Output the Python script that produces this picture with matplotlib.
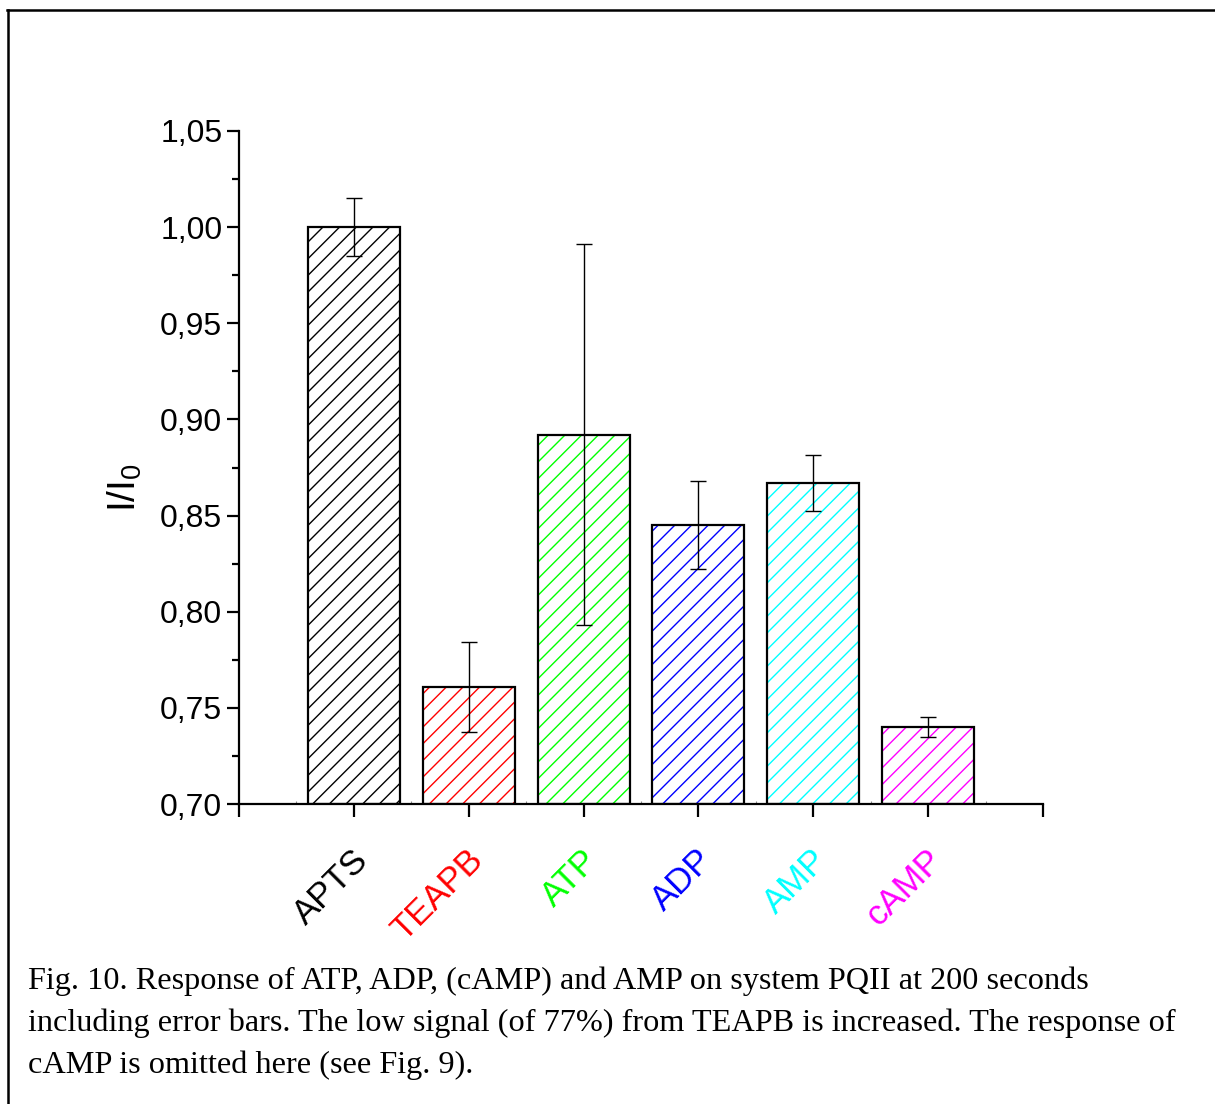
import matplotlib
matplotlib.use("Agg")
import matplotlib.pyplot as plt
from matplotlib.lines import Line2D
import matplotlib.transforms as mtransforms
import numpy as np

categories = ["APTS", "TEAPB", "ATP", "ADP", "AMP", "cAMP"]
values = [1.000, 0.761, 0.892, 0.845, 0.867, 0.740]
errors = [0.015, 0.0235, 0.099, 0.023, 0.0145, 0.0052]
colors = ["#000000", "#ff0000", "#00ff00", "#0000ff", "#00ffff", "#ff00ff"]
caption = ["Fig. 10. Response of ATP, ADP, (cAMP) and AMP on system PQII at 200 seconds",
           "including error bars. The low signal (of 77%) from TEAPB is increased. The response of",
           "cAMP is omitted here (see Fig. 9)."]

plt.rcParams['font.family'] = ['Liberation Sans', 'DejaVu Sans']
plt.rcParams['hatch.linewidth'] = 1.0

W, H = 1215, 1104
fig = plt.figure(figsize=(W / 100, H / 100), dpi=100)
ax = fig.add_axes([239 / W, 1 - 804 / H, (1043 - 239) / W, (804 - 131) / H])

x = np.arange(1, len(categories) + 1)
base = 0.70
for xi, v, c in zip(x, values, colors):
    ax.bar(xi, v - base, bottom=base, width=0.8, color='white', edgecolor=c,
           hatch='//', linewidth=0, zorder=2)
    ax.bar(xi, v - base, bottom=base, width=0.8, fill=False, edgecolor='black',
           linewidth=1.6, zorder=3)
ax.errorbar(x, values, yerr=errors, fmt='none', ecolor='black', elinewidth=1.0,
            capsize=6, capthick=1.0, zorder=4)

ax.set_xlim(0, 7)
ax.set_ylim(0.70, 1.05)
for s in ['top', 'right']:
    ax.spines[s].set_visible(False)
for s in ['left', 'bottom']:
    ax.spines[s].set_linewidth(1.6)

ax.set_yticks(np.arange(0.70, 1.0501, 0.05))
ax.set_yticklabels([f"{t:.2f}".replace('.', ',') for t in np.arange(0.70, 1.0501, 0.05)])
ax.set_yticks(np.arange(0.725, 1.05, 0.05), minor=True)
ax.tick_params(axis='y', which='major', direction='out', length=9, width=1.6,
               labelsize=23, pad=3)
ax.tick_params(axis='y', which='minor', direction='out', length=5, width=1.6)

ax.set_xticks(np.arange(0, 8))
ax.set_xticklabels([])
ax.set_xticks(np.arange(0.5, 7, 1.0), minor=True)
ax.tick_params(axis='x', which='major', direction='out', length=9, width=1.6)
ax.tick_params(axis='x', which='minor', direction='in', length=2, width=0.8, color='#888888')

trans = mtransforms.blended_transform_factory(ax.transData, ax.transAxes) + \
    mtransforms.ScaledTranslation(9 / 100, 0, fig.dpi_scale_trans)
ylab = (804 - 855) / (804 - 131)
for xi, cat, c in zip(x, categories, colors):
    ax.text(xi, ylab, cat, color=c, fontsize=25, rotation=45, ha='right', va='center',
            rotation_mode='anchor', transform=trans, clip_on=False)

fig.text(125 / W, 1 - 488 / H, r"I/I$_\mathregular{0}$", rotation=90, fontsize=28,
         ha='center', va='center')

for i, line in enumerate(caption):
    fig.text(28 / W, 1 - (989 + 42 * i) / H, line, fontsize=23.2,
             family=['Liberation Serif', 'DejaVu Serif'], ha='left', va='baseline')

fig.add_artist(Line2D([8 / W, 8 / W], [0, 1 - 10 / H], color='black', lw=1.8,
                      transform=fig.transFigure))
fig.add_artist(Line2D([7 / W, 1], [1 - 10 / H, 1 - 10 / H], color='black', lw=1.8,
                      transform=fig.transFigure))

fig.savefig("out.png", dpi=100)
